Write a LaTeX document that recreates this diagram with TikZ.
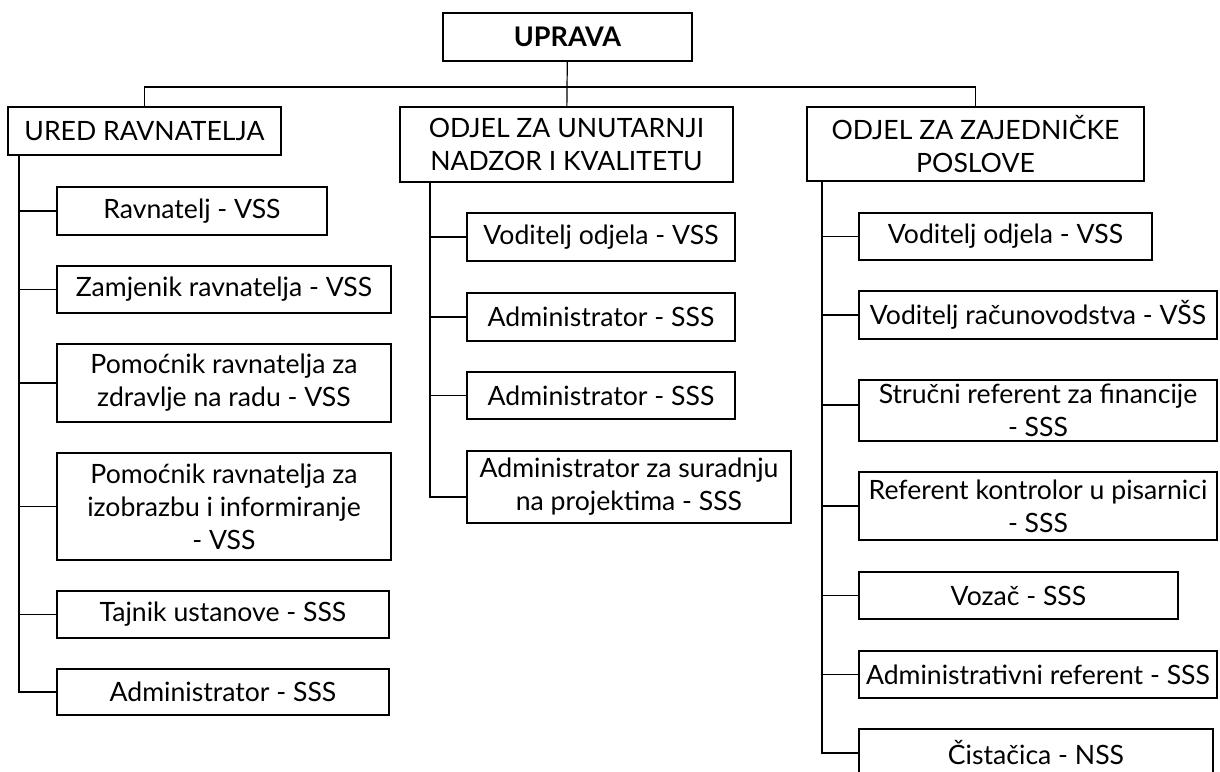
\documentclass[tikz,border=0pt]{standalone}
\usepackage{fontspec}
\setmainfont{Lato}

\begin{document}
\begin{tikzpicture}[x=0.5pt,y=-0.5pt,
  box/.style={draw,line width=0.6pt,align=center,inner sep=0pt,font=\fontsize{13.3}{16.5}\selectfont},
  sz/.style 2 args={minimum width=#1*0.5pt,minimum height=#2*0.5pt},
  link/.style={line width=0.6pt}]
\useasboundingbox (0,0) rectangle (1220,771);

\node[box,sz={249}{48},font=\fontsize{13.5}{15}\selectfont\bfseries] (uprava) at (567.5,37) {UPRAVA};
\node[box,sz={273}{48}] (ured) at (144.5,131) {URED RAVNATELJA};
\node[box,sz={333}{75}] (unut) at (566.5,144.5) {ODJEL ZA UNUTARNJI\\NADZOR I KVALITETU};
\node[box,sz={337}{74}] (zaj) at (975.5,144) {ODJEL ZA ZAJEDNIČKE\\POSLOVE};

\coordinate (bus) at (567,87);
\draw[link] (uprava) -- (unut);
\draw[link] (ured.north) |- (bus) -| (zaj.north);

% ured ravnatelja
\node[box,sz={270}{48}] (r1) at (192,211) {Ravnatelj - VSS};
\node[box,sz={334}{47}] (r2) at (224,289.5) {Zamjenik ravnatelja - VSS};
\node[box,sz={334}{78}] (r3) at (224,383) {Pomoćnik ravnatelja za\\zdravlje na radu - VSS};
\node[box,sz={334}{107}] (r4) at (224,506.5) {Pomoćnik ravnatelja za\\izobrazbu i informiranje\\- VSS};
\node[box,sz={332}{47}] (r5) at (223,614.5) {Tajnik ustanove - SSS};
\node[box,sz={332}{46}] (r6) at (223,692) {Administrator - SSS};

\coordinate (s1) at (19,155);
\foreach \n in {r1,r2,r3,r4,r5,r6}
  \draw[link] (s1) |- (\n.west);

% odjel za unutarnji nadzor
\node[box,sz={268}{48}] (u1) at (601,237) {Voditelj odjela - VSS};
\node[box,sz={268}{48}] (u2) at (601,317) {Administrator - SSS};
\node[box,sz={268}{47}] (u3) at (601,395.5) {Administrator - SSS};
\node[box,sz={324}{72}] (u4) at (629,487) {Administrator za suradnju\\na projektima - SSS};

\coordinate (s2) at (430,182);
\coordinate (u4in) at (467,497);
\foreach \n in {u1,u2,u3}
  \draw[link] (s2) |- (\n.west);
\draw[link] (s2) |- (u4in);

% odjel za zajednicke poslove
\node[box,sz={293}{47}] (z1) at (1005.5,236.5) {Voditelj odjela - VSS};
\node[box,sz={358}{48}] (z2) at (1038,315) {Voditelj računovodstva - VŠS};
\node[box,sz={358}{61}] (z3) at (1038,410.5) {Stručni referent za financije\\- SSS};
\node[box,sz={358}{68}] (z4) at (1038,506) {Referent kontrolor u pisarnici\\- SSS};
\node[box,sz={319}{47}] (z5) at (1018.5,595.5) {Vozač - SSS};
\node[box,sz={358}{47}] (z6) at (1038,674.5) {Administrativni referent - SSS};
\node[box,sz={354}{48}] (z7) at (1036,753) {Čistačica - NSS};

\coordinate (s3) at (822,181);
\coordinate (z3in) at (859,405);
\foreach \n in {z1,z2,z4,z5,z6,z7}
  \draw[link] (s3) |- (\n.west);
\draw[link] (s3) |- (z3in);
\end{tikzpicture}
\end{document}
